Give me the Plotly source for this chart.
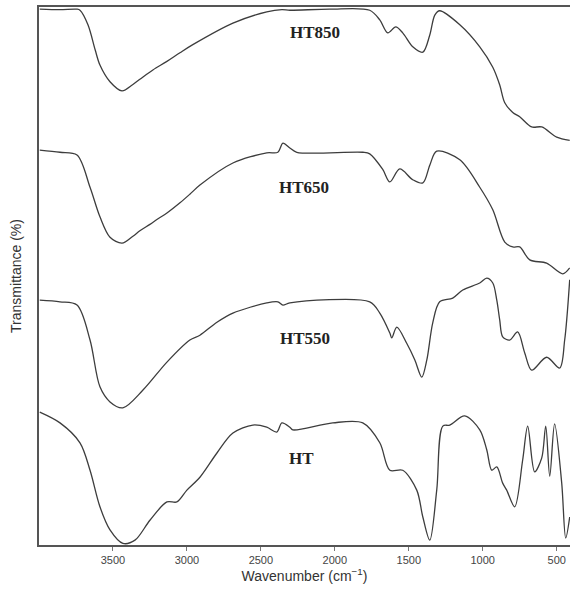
import plotly.graph_objects as go

# ---- data (wavenumber cm^-1, arbitrary transmittance units) ----
ht850_wn = [3995, 3858, 3743, 3723, 3669, 3620, 3588, 3520, 3439, 3365, 3297, 3230, 3135, 3047,
            2960, 2689, 2460, 2358, 2304, 2034, 1764, 1696, 1642, 1588, 1541, 1473, 1405, 1358,
            1324, 1291, 1155, 1020, 932, 885, 851, 797, 750, 669, 601, 500, 412]
ht850_t = [99.6, 99.5, 99.6, 99.4, 96.7, 92.0, 89.2, 86.1, 84.4, 85.6, 87.0, 88.3, 89.9, 91.5,
           93.0, 97.0, 99.1, 99.5, 99.4, 99.6, 99.4, 97.6, 95.2, 96.3, 95.2, 92.6, 91.6, 94.8,
           98.5, 99.3, 96.7, 92.6, 88.8, 85.5, 82.2, 80.4, 79.6, 77.7, 77.7, 75.8, 75.2]

ht650_wn = [3995, 3858, 3743, 3655, 3588, 3520, 3439, 3365, 3318, 3250, 3203, 3135, 3047, 2980,
            2912, 2689, 2460, 2385, 2351, 2304, 2257, 1811, 1764, 1676, 1628, 1561, 1473, 1405,
            1358, 1311, 1155, 1020, 932, 851, 797, 750, 682, 568, 459, 412]
ht650_t = [73.4, 73.0, 72.5, 66.5, 61.0, 57.2, 56.1, 57.4, 58.4, 59.6, 60.5, 61.7, 63.6, 65.2,
           66.9, 71.0, 72.9, 73.0, 74.7, 73.8, 73.0, 73.0, 72.7, 69.8, 67.5, 69.9, 67.9, 67.3,
           70.6, 73.2, 71.6, 66.5, 62.3, 56.3, 55.4, 55.4, 53.0, 52.4, 50.4, 51.5]

ht550_wn = [3995, 3858, 3743, 3655, 3588, 3520, 3433, 3297, 3135, 2980, 2912, 2797, 2689, 2460,
            2385, 2351, 2304, 1764, 1696, 1628, 1615, 1581, 1514, 1459, 1412, 1378, 1338, 1291,
            1203, 1135, 1020, 973, 932, 905, 885, 865, 818, 764, 716, 669, 568, 480, 446, 412]
ht550_t = [45.5, 45.2, 44.6, 38.1, 29.4, 26.6, 25.5, 28.8, 34.0, 38.1, 39.0, 41.4, 43.1, 45.0,
           45.2, 44.6, 45.0, 45.2, 43.1, 39.4, 38.5, 40.5, 37.5, 34.4, 31.2, 34.4, 41.3, 45.2,
           45.9, 47.4, 48.7, 49.6, 48.7, 45.5, 41.8, 38.7, 38.1, 39.6, 35.7, 32.5, 34.9, 32.9,
           38.1, 49.3]

ht_wn = [3995, 3858, 3723, 3655, 3588, 3520, 3433, 3351, 3250, 3135, 3068, 3000, 2912, 2797,
         2689, 2554, 2460, 2392, 2358, 2304, 2284, 2014, 1811, 1696, 1628, 1541, 1446, 1405,
         1358, 1311, 1270, 1223, 1122, 1020, 973, 939, 905, 865, 838, 784, 730, 696, 649, 601,
         574, 547, 514, 466, 439, 412]
ht_t = [24.7, 22.7, 19.0, 13.9, 7.1, 2.8, 0.3, 0.9, 4.6, 8.0, 8.0, 10.2, 12.6, 17.1,
        20.8, 22.3, 21.9, 21.0, 22.7, 21.9, 21.4, 22.7, 22.7, 19.0, 13.9, 13.9, 10.2, 5.2,
        0.9, 10.2, 22.1, 22.3, 24.0, 21.4, 17.7, 13.9, 14.5, 11.5, 10.2, 7.1, 15.8, 22.1,
        13.6, 16.2, 22.1, 12.8, 22.5, 11.5, 1.3, 5.2]

names = ["HT850", "HT650", "HT550", "HT"]
label_x = [2135, 2210, 2205, 2225]
label_y = [95.2, 66.5, 38.3, 16.0]

x_ticks = [3500, 3000, 2500, 2000, 1500, 1000, 500]

series = [(ht850_wn, ht850_t), (ht650_wn, ht650_t), (ht550_wn, ht550_t), (ht_wn, ht_t)]

fig = go.Figure()
for (wn, t), nm in zip(series, names):
    fig.add_trace(go.Scatter(x=wn, y=t, mode="lines", name=nm,
                             line=dict(color="#3d3d3d", width=1.3, shape="spline", smoothing=0.9),
                             showlegend=False, hoverinfo="x+y"))

for nm, lx, ly in zip(names, label_x, label_y):
    fig.add_annotation(x=lx, y=ly, text="<b>%s</b>" % nm, showarrow=False,
                       font=dict(family="Liberation Serif", size=17, color="#222"))

fig.update_layout(
    width=570, height=591,
    margin=dict(l=39, r=0, t=7, b=46),
    paper_bgcolor="white", plot_bgcolor="white",
    font=dict(family="Liberation Sans", color="#333"),
)
fig.update_xaxes(range=[4000, 410], tickvals=x_ticks, ticktext=[str(v) for v in x_ticks],
                 showline=True, linecolor="#555", linewidth=1.5, mirror=True,
                 ticks="outside", ticklen=4, tickcolor="#777", showgrid=False, zeroline=False,
                 tickfont=dict(size=11, color="#444"),
                 title=dict(text="Wavenumber (cm<sup>−1</sup>)", font=dict(size=14, color="#333"),
                            standoff=4))
fig.update_yaxes(range=[0, 100], showticklabels=False, ticks="", showline=True,
                 linecolor="#555", linewidth=1.5, showgrid=False, zeroline=False,
                 title=dict(text="Transmittance (%)", font=dict(size=14, color="#333"),
                            standoff=12))

fig.write_html("out.html")
